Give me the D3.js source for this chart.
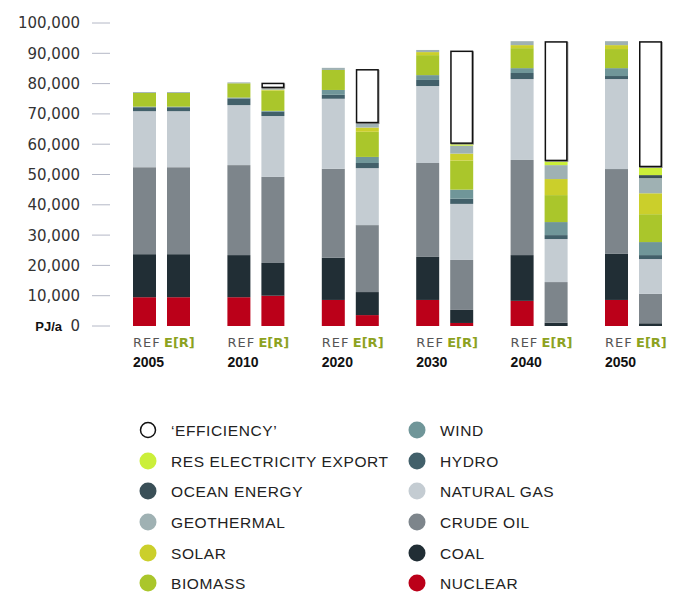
<!DOCTYPE html>
<html>
<head>
<meta charset="utf-8">
<script src="https://cdn.jsdelivr.net/npm/d3@7"></script>
<style>
  body { margin: 0; background: #fff; }
</style>
</head>
<body>
<div id="chart"></div>
<script>
// columns: REF and E[R] per year
var years = ['2005', '2010', '2020', '2030', '2040', '2050']
var scenarios = ['REF', 'E[R]']
var yTicks = [0, 10000, 20000, 30000, 40000, 50000, 60000, 70000, 80000, 90000, 100000]

// values in PJ/a, order: 2005 REF, 2005 E[R], 2010 REF, 2010 E[R], ...
var nuclear    = [9500, 9500, 9500, 10000, 8600, 3600, 8600, 1000, 8300, 0, 8600, 0]
var coal       = [14200, 14200, 13900, 10800, 13900, 7600, 14200, 4300, 15100, 1100, 15200, 900]
var crudeOil   = [28700, 28700, 29700, 28400, 29400, 22100, 31000, 16500, 31400, 13400, 28000, 9700]
var naturalGas = [18500, 18500, 19800, 20100, 23100, 18800, 25400, 18500, 26700, 14200, 29700, 11500]
var hydro      = [1300, 1300, 2200, 1400, 1300, 1700, 2000, 1700, 2000, 1300, 1000, 1300]
var wind       = [200, 200, 300, 300, 1600, 2000, 1600, 3000, 1600, 4300, 2600, 4300]
var biomass    = [4500, 4500, 4700, 6700, 6600, 8300, 6600, 9600, 6600, 8900, 6300, 9200]
var solar      = [0, 0, 0, 300, 0, 1400, 1000, 2300, 1000, 5300, 1300, 6900]
var geothermal = [300, 300, 300, 500, 700, 1400, 700, 2600, 1300, 4600, 1300, 5000]
var ocean      = [0, 0, 0, 0, 0, 0, 0, 0, 0, 0, 0, 1000]
var resExport  = [0, 0, 0, 0, 0, 0, 0, 600, 0, 1300, 0, 2600]
var efficiency = [0, 0, 0, 1800, 0, 17900, 0, 30800, 0, 39600, 0, 41600]

var series = [
  {key: 'nuclear', name: 'NUCLEAR', values: nuclear, color: '#bb0019'},
  {key: 'coal', name: 'COAL', values: coal, color: '#212e35'},
  {key: 'oil', name: 'CRUDE OIL', values: crudeOil, color: '#7d858b'},
  {key: 'gas', name: 'NATURAL GAS', values: naturalGas, color: '#c4ccd2'},
  {key: 'hydro', name: 'HYDRO', values: hydro, color: '#42606a'},
  {key: 'wind', name: 'WIND', values: wind, color: '#709699'},
  {key: 'biomass', name: 'BIOMASS', values: biomass, color: '#aac62b'},
  {key: 'solar', name: 'SOLAR', values: solar, color: '#cbcf2b'},
  {key: 'geo', name: 'GEOTHERMAL', values: geothermal, color: '#9fb1b3'},
  {key: 'ocean', name: 'OCEAN ENERGY', values: ocean, color: '#3a4f57'},
  {key: 'export', name: 'RES ELECTRICITY EXPORT', values: resExport, color: '#cbef3a'},
  {key: 'eff', name: '\u2018EFFICIENCY\u2019', values: efficiency, color: '#ffffff'}
]

var rows = []
years.forEach(function(y, i) {
  scenarios.forEach(function(s, j) {
    var row = {year: y, scen: s}
    series.forEach(function(d) { row[d.key] = d.values[i * 2 + j] })
    rows.push(row)
  })
})

var width = 683, height = 592

var svg = d3.select('#chart').append('svg')
  .attr('width', width)
  .attr('height', height)
  .attr('font-family', 'DejaVu Sans, sans-serif')

var y = d3.scaleLinear().domain([0, 100000]).range([326, 23])
var x0 = d3.scaleBand().domain(years).range([133, 699.4])
var x1 = d3.scaleBand().domain(scenarios).range([0, 57]).paddingInner(11 / 34)

// y axis
var yAxis = svg.append('g')
yAxis.selectAll('line')
  .data(yTicks)
  .enter().append('line')
  .attr('x1', 92).attr('x2', 110)
  .attr('y1', function(d) { return y(d) })
  .attr('y2', function(d) { return y(d) })
  .attr('stroke', '#b4b8c6')
  .attr('stroke-width', 1)

yAxis.selectAll('text')
  .data(yTicks)
  .enter().append('text')
  .attr('x', 80)
  .attr('y', function(d) { return y(d) })
  .attr('dy', '0.36em')
  .attr('text-anchor', 'end')
  .attr('font-size', 15)
  .attr('fill', '#333')
  .text(function(d) { return d3.format(',')(d) })

svg.append('text')
  .attr('x', 62).attr('y', y(0))
  .attr('dy', '0.36em')
  .attr('text-anchor', 'end')
  .attr('font-size', 13)
  .attr('font-weight', 'bold')
  .attr('font-family', 'Liberation Sans, sans-serif')
  .attr('fill', '#111')
  .text('PJ/a')

// stacked bars
var stack = d3.stack().keys(series.map(function(d) { return d.key }))
var layers = stack(rows)

var bw = x1.bandwidth()
function bx(d) { return x0(d.data.year) + x1(d.data.scen) }

layers.forEach(function(layer, i) {
  var s = series[i]
  var g = svg.append('g')
  var shown = layer.filter(function(d) { return d[1] - d[0] > 0 })
  if (s.key === 'eff') {
    // grey shadow then outlined box
    g.selectAll('rect.shadow')
      .data(shown)
      .enter().append('rect')
      .attr('class', 'shadow')
      .attr('x', function(d) { return bx(d) + 1.5 })
      .attr('y', function(d) { return y(d[1]) + 1.5 })
      .attr('width', bw - 1.5)
      .attr('height', function(d) { return y(d[0]) - y(d[1]) - 1.5 })
      .attr('fill', 'none')
      .attr('stroke', '#999')
      .attr('stroke-width', 1.5)
    g.selectAll('rect.box')
      .data(shown)
      .enter().append('rect')
      .attr('class', 'box')
      .attr('x', function(d) { return bx(d) + 0.75 })
      .attr('y', function(d) { return y(d[1]) + 0.75 })
      .attr('width', bw - 1.5)
      .attr('height', function(d) { return y(d[0]) - y(d[1]) - 1.5 })
      .attr('fill', '#fff')
      .attr('stroke', '#111')
      .attr('stroke-width', 1.5)
  } else {
    g.selectAll('rect')
      .data(shown)
      .enter().append('rect')
      .attr('x', bx)
      .attr('y', function(d) { return y(d[1]) })
      .attr('width', bw)
      .attr('height', function(d) { return y(d[0]) - y(d[1]) })
      .attr('fill', s.color)
  }
})

// x labels
var xl = svg.append('g')
xl.selectAll('text.ref')
  .data(years)
  .enter().append('text')
  .attr('class', 'ref')
  .attr('x', function(d) { return x0(d) + x1('REF') })
  .attr('y', 347)
  .attr('font-size', 13)
  .attr('letter-spacing', 1)
  .attr('fill', '#555')
  .text('REF')

xl.selectAll('text.er')
  .data(years)
  .enter().append('text')
  .attr('class', 'er')
  .attr('x', function(d) { return x0(d) + x1('E[R]') - 3 })
  .attr('y', 347)
  .attr('font-size', 13)
  .attr('font-weight', 'bold')
  .attr('fill', '#8da21f')
  .text('E[R]')

xl.selectAll('text.year')
  .data(years)
  .enter().append('text')
  .attr('class', 'year')
  .attr('x', function(d) { return x0(d) + x1('REF') })
  .attr('y', 367)
  .attr('font-size', 14)
  .attr('font-weight', 'bold')
  .attr('font-family', 'Liberation Sans, sans-serif')
  .attr('fill', '#111')
  .text(function(d) { return d })

// legend: left column top-down, then right column
var legendOrder = ['eff', 'export', 'ocean', 'geo', 'solar', 'biomass',
                   'wind', 'hydro', 'gas', 'oil', 'coal', 'nuclear']
var rowY = [430, 461, 491, 522, 553, 583]
var colX = [148, 417]

var legend = svg.append('g').selectAll('g')
  .data(legendOrder.map(function(k) { return series.find(function(s) { return s.key === k }) }))
  .enter().append('g')
  .attr('transform', function(d, i) {
    return 'translate(' + colX[Math.floor(i / 6)] + ',' + rowY[i % 6] + ')'
  })

legend.append('circle')
  .attr('r', function(d) { return d.key === 'eff' ? 7.5 : 8.5 })
  .attr('fill', function(d) { return d.color })
  .attr('stroke', function(d) { return d.key === 'eff' ? '#111' : 'none' })
  .attr('stroke-width', 1.5)

legend.append('text')
  .attr('x', 23)
  .attr('dy', '0.36em')
  .attr('font-size', 15.5)
  .attr('font-family', 'Liberation Sans, sans-serif')
  .attr('letter-spacing', 0.6)
  .attr('fill', '#222')
  .text(function(d) { return d.name })
</script>
</body>
</html>
